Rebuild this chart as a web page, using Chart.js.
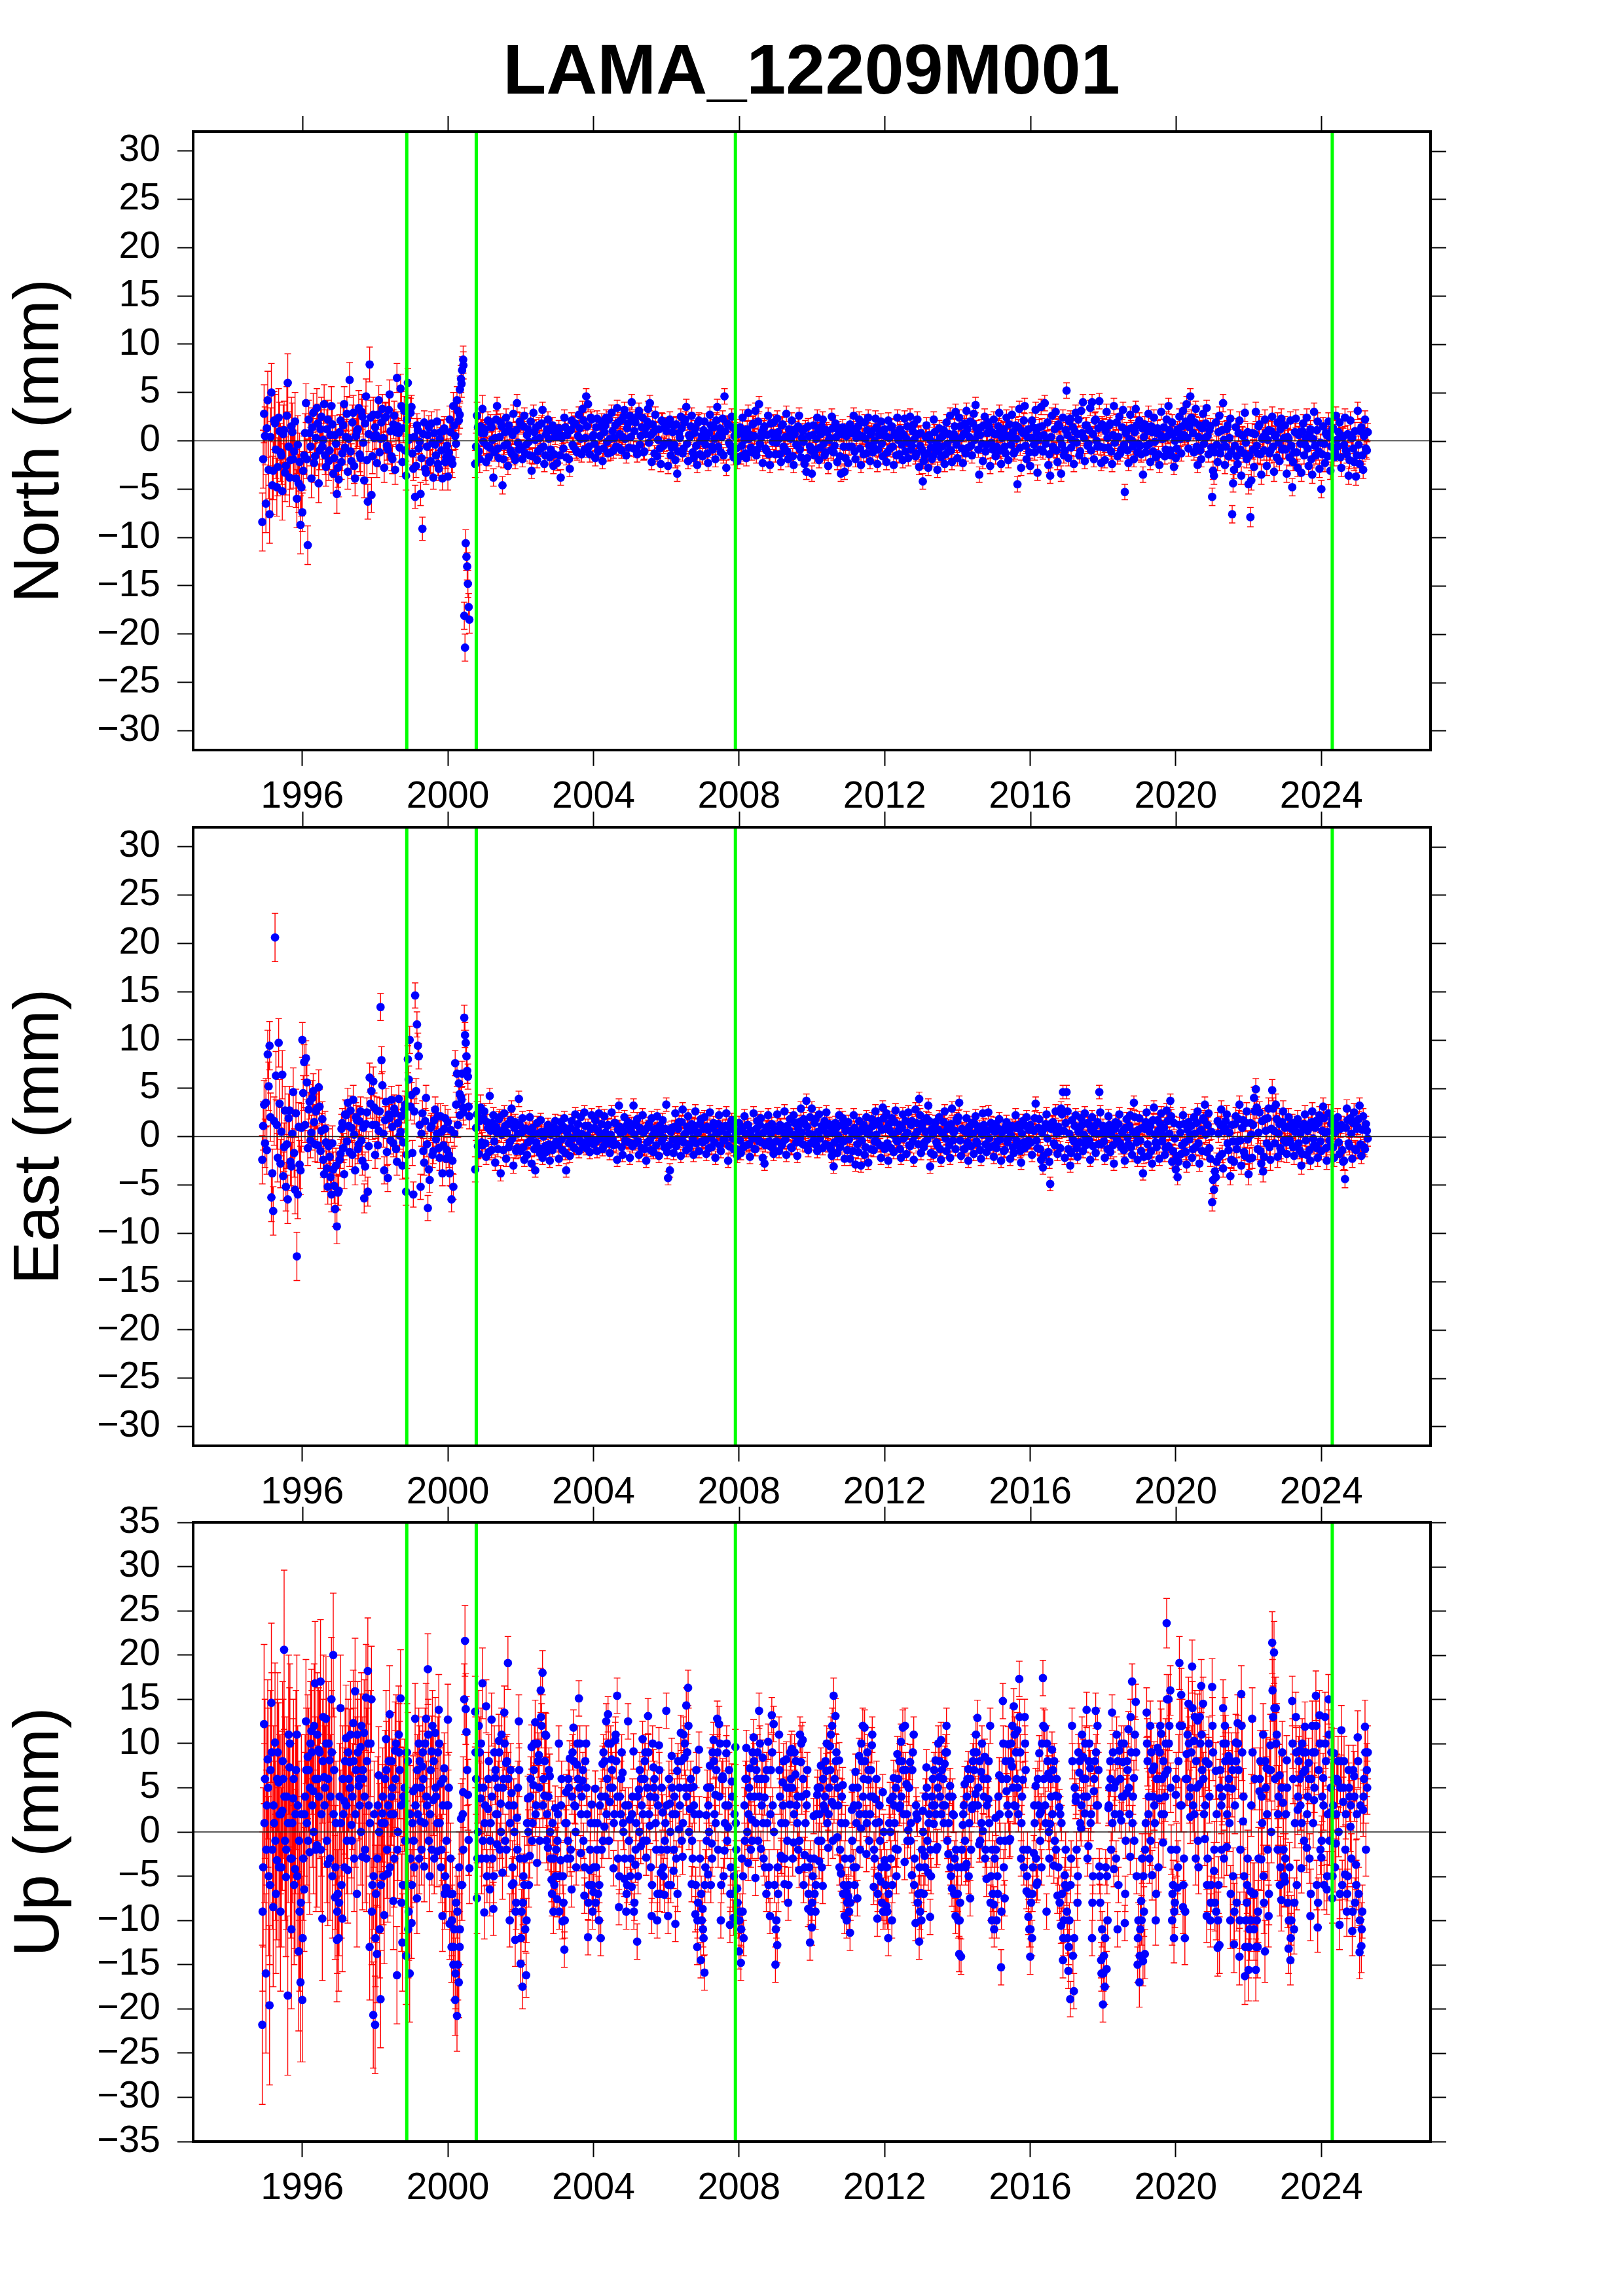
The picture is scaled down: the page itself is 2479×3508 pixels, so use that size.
<!DOCTYPE html>
<html><head><meta charset="utf-8">
<script src="https://cdn.jsdelivr.net/npm/chart.js@4.4.1/dist/chart.umd.min.js"></script>
<style>
html,body{margin:0;padding:0;background:#fff;}
body{width:2479px;height:3508px;position:relative;overflow:hidden;font-family:"Liberation Sans",Arial,sans-serif;}
#title{position:absolute;left:0;top:52px;width:2479px;text-align:center;font-weight:bold;font-size:108px;line-height:108px;color:#000;}
canvas{position:absolute;left:0;}
</style></head>
<body>
<div id="title">LAMA_12209M001</div>
<canvas id="cN"></canvas>
<canvas id="cE"></canvas>
<canvas id="cU"></canvas>
<script>
// ---------- DATA (decimal years; mm) ----------
// sample set A
const epochs = [
1994.90,1994.95,
1995.00,1995.05,1995.10,1995.15,1995.20,1995.25,1995.30,1995.35,1995.40,1995.45,1995.50,1995.55,1995.60,1995.65,1995.70,1995.75,1995.80,1995.85,1995.90,1995.95,
1996.00,1996.05,1996.10,1996.15,1996.20,1996.25,1996.30,1996.35,1996.40,1996.45,1996.50,1996.55,1996.60,1996.65,1996.70,1996.75,1996.80,1996.85,1996.90,1996.95,
1997.00,1997.05,1997.10,1997.15,1997.20,1997.25,1997.30,1997.35,1997.40,1997.45,1997.50,1997.55,1997.60,1997.65,1997.70,1997.75,1997.80,1997.85,1997.90,1997.95,
1998.00,1998.05,1998.10,1998.15,1998.20,1998.25,1998.30,1998.35,1998.40,1998.45,1998.50,1998.55,1998.60,1998.65,1998.70,1998.75,1998.80,1998.85,1998.90,1998.95,
1999.00,1999.05,1999.10,1999.15,1999.20,1999.25,1999.30,1999.35,1999.40,1999.45,1999.50,1999.55,1999.60,1999.65,1999.70,1999.75,1999.80,1999.85,1999.90,1999.95,
2000.00,2000.05,2000.10,2000.15,2000.20,2000.25,2000.30,2000.33,2000.36,2000.39,2000.42,2000.45,2000.47,2000.49,2000.51,2000.53,2000.55,2000.57,2000.59,2000.75,2000.80,2000.85,2000.90,2000.95,
2001.00,2001.05,2001.10,2001.15,2001.20,2001.25,2001.30,2001.35,2001.40,2001.45,2001.50,2001.55,2001.60,2001.65,2001.70,2001.75,2001.80,2001.85,2001.90,2001.95,
2002.00,2002.05,2002.10,2002.15,2002.20,2002.25,2002.30,2002.35,2002.40,2002.45,2002.50,2002.55,2002.60,2002.65,2002.70,2002.75,2002.80,2002.85,2002.90,2002.95,
2003.00,2003.05,2003.10,2003.15,2003.20,2003.25,2003.30,2003.35,2003.40,2003.45,2003.50,2003.55,2003.60,2003.65,2003.70,2003.75,2003.80,2003.85,2003.90,2003.95,
2004.00,2004.05,2004.10,2004.15,2004.20,2004.25,2004.30,2004.35,2004.40,2004.45,2004.50,2004.55,2004.60,2004.65,2004.70,2004.75,2004.80,2004.85,2004.90,2004.95,
2005.00,2005.05,2005.10,2005.15,2005.20,2005.25,2005.30,2005.35,2005.40,2005.45,2005.50,2005.55,2005.60,2005.65,2005.70,2005.75,2005.80,2005.85,2005.90,2005.95,
2006.00,2006.05,2006.10,2006.15,2006.20,2006.25,2006.30,2006.35,2006.40,2006.45,2006.50,2006.55,2006.60,2006.65,2006.70,2006.75,2006.80,2006.85,2006.90,2006.95,
2007.00,2007.05,2007.10,2007.15,2007.20,2007.25,2007.30,2007.35,2007.40,2007.45,2007.50,2007.55,2007.60,2007.65,2007.70,2007.75,2007.80,2007.85,2007.90,2007.95,
2008.00,2008.05,2008.10,2008.15,2008.20,2008.25,2008.30,2008.35,2008.40,2008.45,2008.50,2008.55,2008.60,2008.65,2008.70,2008.75,2008.80,2008.85,2008.90,2008.95,
2009.00,2009.05,2009.10,2009.15,2009.20,2009.25,2009.30,2009.35,2009.40,2009.45,2009.50,2009.55,2009.60,2009.65,2009.70,2009.75,2009.80,2009.85,2009.90,2009.95,
2010.00,2010.05,2010.10,2010.15,2010.20,2010.25,2010.30,2010.35,2010.40,2010.45,2010.50,2010.55,2010.60,2010.65,2010.70,2010.75,2010.80,2010.85,2010.90,2010.95,
2011.00,2011.05,2011.10,2011.15,2011.20,2011.25,2011.30,2011.35,2011.40,2011.45,2011.50,2011.55,2011.60,2011.65,2011.70,2011.75,2011.80,2011.85,2011.90,2011.95,
2012.00,2012.05,2012.10,2012.15,2012.20,2012.25,2012.30,2012.35,2012.40,2012.45,2012.50,2012.55,2012.60,2012.65,2012.70,2012.75,2012.80,2012.85,2012.90,2012.95,
2013.00,2013.05,2013.10,2013.15,2013.20,2013.25,2013.30,2013.35,2013.40,2013.45,2013.50,2013.55,2013.60,2013.65,2013.70,2013.75,2013.80,2013.85,2013.90,2013.95,
2014.00,2014.05,2014.10,2014.15,2014.20,2014.25,2014.30,2014.35,2014.40,2014.45,2014.50,2014.55,2014.60,2014.65,2014.70,2014.75,2014.80,2014.85,2014.90,2014.95,
2015.00,2015.05,2015.10,2015.15,2015.20,2015.25,2015.30,2015.35,2015.40,2015.45,2015.50,2015.55,2015.60,2015.65,2015.70,2015.75,2015.80,2015.85,2015.90,2015.95,
2016.00,2016.05,2016.10,2016.15,2016.20,2016.25,2016.30,2016.35,2016.40,2016.45,2016.50,2016.55,2016.60,2016.65,2016.70,2016.75,2016.80,2016.85,2016.90,2016.95,
2017.00,2017.05,2017.10,2017.15,2017.20,2017.25,2017.30,2017.35,2017.40,2017.45,2017.50,2017.55,2017.60,2017.65,2017.70,2017.75,2017.80,2017.85,2017.90,2017.95,
2018.00,2018.05,2018.10,2018.15,2018.20,2018.25,2018.30,2018.35,2018.40,2018.45,2018.50,2018.55,2018.60,2018.65,2018.70,2018.75,2018.80,2018.85,2018.90,2018.95,
2019.00,2019.05,2019.10,2019.15,2019.20,2019.25,2019.30,2019.35,2019.40,2019.45,2019.50,2019.55,2019.60,2019.65,2019.70,2019.75,2019.80,2019.85,2019.90,2019.95,
2020.00,2020.05,2020.10,2020.15,2020.20,2020.25,2020.30,2020.35,2020.40,2020.45,2020.50,2020.55,2020.60,2020.65,2020.70,2020.75,2020.80,2020.85,2020.90,2020.95,
2021.00,2021.05,2021.10,2021.15,2021.20,2021.25,2021.30,2021.35,2021.40,2021.45,2021.50,2021.55,2021.60,2021.65,2021.70,2021.75,2021.80,2021.85,2021.90,2021.95,
2022.00,2022.05,2022.10,2022.15,2022.20,2022.25,2022.30,2022.35,2022.40,2022.45,2022.50,2022.55,2022.60,2022.65,2022.70,2022.75,2022.80,2022.85,2022.90,2022.95,
2023.00,2023.05,2023.10,2023.15,2023.20,2023.25,2023.30,2023.35,2023.40,2023.45,2023.50,2023.55,2023.60,2023.65,2023.70,2023.75,2023.80,2023.85,2023.90,2023.95,
2024.00,2024.05,2024.10,2024.15,2024.20,2024.25,2024.30,2024.35,2024.40,2024.45,2024.50,2024.55,2024.60,2024.65,2024.70,2024.75,2024.80,2024.85,2024.90,2024.95,
2025.00,2025.05,2025.10,2025.15,2025.20,2025.25
];

const north = [
-8.4,2.8,
-6.5,4.2,-7.6,5.0,-3.1,1.8,-4.8,2.4,-1.2,-5.2,1.1,-2.6,6.0,-3.8,1.5,-1.9,2.0,-6.0,-4.4,-8.7,
-7.4,-1.5,3.9,-10.8,0.8,-3.9,2.9,-1.6,3.4,-4.4,1.2,-0.6,3.8,-2.7,2.2,-1.0,3.6,-3.4,0.6,-5.5,
-4.0,2.1,-1.3,3.8,0.4,-3.2,6.3,-2.1,2.9,-3.9,1.0,3.4,-1.8,2.5,-4.1,4.6,-6.3,7.9,-5.6,2.7,
1.4,-2.3,4.2,0.2,3.3,-2.8,2.5,-0.9,4.8,-1.6,1.7,-3.0,6.5,0.8,5.4,-2.2,3.1,-3.6,6.0,0.3,
3.5,-2.9,-5.8,1.6,-0.8,-5.5,-9.1,1.9,-3.3,0.6,-2.2,1.8,-3.8,-0.4,2.0,-2.9,0.9,-3.9,1.3,-1.7,
-3.7,2.2,-1.9,3.6,0.5,4.2,2.1,5.3,6.4,7.3,8.4,-18.1,-21.4,-10.6,-12.0,-13.0,-14.8,-17.2,-18.5,-2.4,2.6,-1.1,1.5,3.3,
0.8,-2.2,2.1,-0.7,1.4,-3.8,0.3,3.6,-1.8,1.9,-4.6,-0.5,2.4,-2.6,1.0,-1.3,2.8,-2.0,3.9,-0.9,
1.7,-1.9,2.6,-0.4,1.2,-1.5,-3.1,2.9,0.1,-2.0,1.6,-0.8,3.2,-2.4,0.7,2.2,-1.7,1.1,-2.6,0.4,
-2.3,1.3,-3.8,0.5,2.4,-1.7,1.0,-2.9,2.1,-0.6,1.8,-1.2,2.7,0.2,3.3,-0.9,4.6,3.8,-1.4,2.2,
0.6,-1.8,2.3,-0.9,1.5,-2.1,0.9,2.4,-1.3,0.2,2.9,-1.0,1.6,3.4,-0.7,2.1,0.4,3.2,-1.5,1.8,
2.6,4.0,-0.8,1.9,-1.4,3.1,0.5,2.4,-1.1,1.4,3.3,3.9,-2.2,0.9,2.7,-1.6,1.2,-2.4,2.0,-0.3,
1.0,-2.6,2.2,-0.7,1.6,-2.0,-3.4,0.8,2.5,-1.3,1.9,3.5,-2.1,0.4,2.6,-1.8,1.3,-2.5,2.1,0.0,
-1.6,2.0,0.3,-2.3,2.7,-0.6,1.4,-1.9,3.5,0.6,-1.2,2.3,4.6,-2.8,1.7,-0.4,2.5,-1.7,1.1,-2.1,
0.9,-1.6,2.4,0.1,-1.8,2.9,0.6,-1.2,1.8,3.1,-0.9,3.8,0.3,-2.3,1.5,-1.0,2.6,-2.5,0.8,1.9,
-1.4,2.3,0.2,-2.2,1.7,-0.8,2.8,-1.9,0.7,2.1,-2.5,1.2,-0.5,2.6,-1.7,1.0,-2.4,-3.2,1.5,-0.6,
-3.4,1.6,-0.9,2.4,-2.0,0.7,2.2,-1.5,1.1,-2.6,0.3,2.5,-1.2,1.8,-2.2,0.9,-3.4,1.4,-3.2,0.5,
-2.3,1.7,-0.6,2.6,-1.9,0.8,2.2,-2.5,0.4,1.9,-1.3,2.4,-2.1,1.0,-0.7,2.3,-2.4,0.6,2.0,-1.6,
1.2,-2.2,2.1,-0.8,1.5,-2.5,0.6,2.4,-1.4,0.9,-2.0,2.3,0.2,-1.8,2.5,-0.5,1.7,-1.6,2.2,-2.7,
0.8,-4.2,-1.5,1.6,-2.8,0.1,-1.9,2.2,-0.9,-3.0,1.3,-1.7,0.5,-2.4,1.9,-1.1,2.6,-2.2,0.7,3.0,
-1.8,2.4,0.3,-2.3,1.8,3.1,-0.7,2.0,-1.5,2.8,3.7,0.6,-3.5,1.4,-2.1,2.5,-0.4,1.9,-2.6,0.9,
2.2,-1.6,0.7,2.9,-2.4,1.1,-0.6,2.4,-2.0,0.4,2.7,-1.3,1.6,-4.5,3.3,-2.8,0.8,3.6,-1.9,1.2,
-2.6,2.1,-0.4,3.2,-3.3,1.4,3.5,-1.1,3.9,0.2,-2.5,-3.6,2.6,-0.9,3.0,-2.2,1.5,-3.4,2.4,-1.0,
5.2,-1.8,2.3,0.1,-2.4,2.9,0.7,-1.5,3.1,4.0,-2.1,1.6,-0.3,3.4,4.0,-1.9,2.2,-0.6,4.1,-2.3,
1.5,-2.0,3.0,-0.7,1.8,-2.4,3.6,0.4,-1.6,2.5,-0.9,3.2,-5.3,1.1,-2.3,2.7,0.0,-1.9,3.3,-1.2,
2.1,-1.4,-3.5,1.7,-0.5,2.8,-2.2,0.9,2.4,-1.7,1.3,-2.5,3.0,0.2,-1.6,2.2,3.6,-1.0,1.9,-2.7,
-1.8,1.2,2.5,-1.3,3.1,0.4,3.8,-0.8,4.6,2.0,-1.2,3.3,-2.5,1.6,-1.9,2.8,0.3,3.4,-1.4,1.5,
-5.8,-3.6,1.9,-2.2,2.6,-0.7,3.9,-2.5,1.2,-1.6,2.3,-7.6,-3.0,1.4,-2.4,2.1,-3.6,0.5,2.9,-1.9,
-4.5,-7.9,0.8,-2.7,3.0,-1.3,1.7,-3.5,0.4,2.2,-2.6,1.1,-1.0,2.5,-3.2,0.6,1.9,-2.1,2.3,-0.8,
1.6,-3.4,0.2,2.1,-4.8,-1.2,2.3,-2.8,0.9,-3.3,1.8,-0.4,2.4,-2.6,1.2,-3.5,3.0,-1.5,2.0,-2.9,
-5.0,1.5,-2.3,0.6,2.0,-3.1,1.2,-1.7,2.6,-0.6,1.9,-2.8,0.4,2.4,-1.4,-3.6,2.1,0.3,-2.2,-3.7,
3.1,-2.4,1.4,-3.0,2.2,-1.0
];

const east = [
-2.4,3.3,
3.5,8.5,9.4,-6.3,-7.7,20.6,1.2,9.7,-2.8,6.4,-1.1,-5.2,-6.5,2.7,-3.1,4.6,-5.5,-12.4,1.0,-3.5,
10.0,7.7,8.1,-1.2,3.6,0.4,4.7,-0.8,2.9,5.1,-1.5,1.8,-3.9,-0.6,-5.2,-2.1,-6.0,-3.4,-7.5,-9.3,
-5.6,-1.8,1.4,-3.9,2.2,3.5,-1.6,0.9,3.8,-3.5,1.7,-0.8,2.6,-2.5,-6.4,1.3,-5.7,6.1,4.7,5.7,
-1.9,2.7,0.6,13.4,5.3,-3.5,3.6,-4.3,1.9,3.8,-0.7,2.4,-2.6,3.9,0.5,-3.0,2.8,-5.7,8.0,10.0,
4.3,-6.0,14.6,11.6,8.3,-5.2,2.4,-2.7,4.0,-7.4,-4.5,1.1,-1.5,2.8,0.3,-1.2,2.1,-3.8,0.8,-2.3,
1.5,-3.8,-6.5,-5.2,7.6,6.5,5.5,2.2,4.1,6.5,3.0,12.3,10.5,9.7,8.3,6.8,6.2,3.1,2.1,-3.4,2.3,-1.8,3.0,-0.9,
2.6,-2.1,0.9,4.2,-1.4,2.2,-2.7,0.4,1.8,-3.8,0.6,2.4,-2.3,1.3,-0.6,2.9,-3.0,1.5,-1.2,3.9,
-1.5,1.9,-2.4,0.8,-0.6,2.0,-2.8,0.2,-3.5,1.4,-1.2,1.7,-2.2,0.5,-1.6,1.2,-2.5,0.9,-0.9,1.6,
0.4,-2.3,1.5,-1.4,1.9,-3.5,0.1,-2.0,1.6,-1.1,2.3,0.3,-1.5,2.0,-0.6,2.5,-1.2,1.1,-1.6,2.2,
-0.8,1.7,-1.5,2.4,0.2,-1.3,2.1,-0.4,1.2,-1.7,2.5,-0.9,1.4,-2.4,3.2,0.3,-1.9,2.0,-0.5,1.5,
-2.2,1.3,3.2,-0.7,1.8,-1.9,0.6,2.2,-1.3,-2.5,1.0,-0.4,1.9,-1.6,0.8,2.1,-2.0,0.5,1.7,-1.1,
3.3,-4.3,-3.5,0.9,-1.7,2.4,-0.3,1.5,-2.0,2.8,0.2,-1.4,2.1,-0.8,1.3,-1.9,2.6,0.4,-1.5,1.8,
-0.6,2.0,-1.8,0.7,2.5,-1.1,1.4,-2.2,0.3,2.2,-1.5,1.0,-0.4,2.4,-2.5,0.8,1.7,-1.3,0.5,-2.0,
1.4,-1.7,0.6,2.1,-0.9,1.2,-2.1,0.0,2.4,-1.3,1.6,-0.5,1.9,-2.2,-2.8,0.9,2.2,-1.0,1.3,-1.8,
0.7,2.3,-1.5,1.1,-0.6,2.6,-1.9,0.4,1.8,-1.2,2.2,0.1,-2.0,1.5,2.9,-0.8,1.3,3.7,-1.4,2.0,
2.9,-0.4,1.8,-1.5,2.3,0.6,-1.2,1.6,2.5,-0.9,1.1,-2.0,-3.1,1.4,-1.7,2.2,-0.3,1.9,-2.3,0.7,
1.5,-2.3,0.4,2.2,-2.9,-0.8,1.6,-3.0,0.9,-1.9,2.0,-2.7,0.2,1.8,-1.4,2.6,-0.6,1.2,-2.2,3.0,
-1.3,2.4,-2.5,0.6,1.9,-1.6,2.7,-0.5,1.2,-2.2,2.3,0.0,-1.8,2.5,-1.0,1.6,-2.4,2.8,0.5,3.9,
-1.7,1.4,-0.6,1.9,3.2,-3.1,0.8,-1.9,1.5,-0.9,2.0,-2.4,0.3,2.6,-1.5,1.1,-2.2,2.9,0.4,-1.3,
1.6,3.5,-2.0,0.7,-1.3,1.9,-2.5,0.2,1.4,-1.8,2.1,-0.7,1.0,-2.3,2.4,0.5,-1.6,2.5,-1.1,0.9,
-2.1,1.3,-0.5,1.8,-2.5,0.6,-1.4,1.5,-0.2,-2.3,1.1,-1.7,2.2,-0.9,0.8,-2.7,1.6,-1.2,2.0,-0.4,
1.2,-1.9,0.6,3.4,-1.2,1.8,-2.4,-3.2,0.9,2.3,-1.6,-4.9,1.4,-0.7,2.6,-1.8,0.5,2.9,4.6,-2.2,
4.6,-1.3,-3.0,1.7,-0.5,2.2,-2.1,0.8,1.9,-1.5,2.4,-0.2,1.3,-2.4,2.0,0.4,-1.7,1.5,4.6,-0.8,
1.1,-2.2,0.3,2.1,-1.6,0.9,-2.8,1.5,-0.4,2.3,-1.1,0.6,-2.5,1.8,-0.8,2.2,-1.9,3.5,0.2,-2.4,
1.9,-1.5,-3.8,0.8,2.5,-2.0,1.1,-2.8,3.0,-0.6,1.7,-2.3,2.4,0.1,-1.9,2.7,-1.0,3.7,-2.6,1.4,
-3.4,-4.2,1.2,-1.8,2.2,-0.6,-2.9,1.5,0.2,-2.2,2.0,-1.1,2.6,-2.8,0.7,1.9,3.3,-1.6,2.4,-2.3,
-6.8,-5.5,-4.2,1.6,-2.1,2.8,-3.3,0.9,2.3,-1.4,-4.1,1.2,-2.6,2.1,-0.5,3.3,-3.0,1.7,-2.0,2.6,
-3.9,1.4,-2.2,4.0,4.9,-1.3,2.5,-2.8,-3.6,1.8,-0.7,2.9,-2.4,4.8,0.6,3.3,-2.1,1.3,-1.5,2.6,
0.9,-1.8,2.0,-0.6,1.4,-2.0,0.5,1.8,-1.4,-3.0,0.8,2.3,-1.9,1.1,-2.5,2.6,-0.9,1.6,-2.2,2.2,
-1.5,3.1,0.4,-2.5,2.4,-1.0,1.7,-2.2,0.6,2.0,-1.8,1.2,-2.6,-4.4,2.9,-0.7,1.9,-2.3,2.5,-1.4,
1.0,3.2,-2.0,2.1,-1.3,0.6
];

const up = [
-21.8,12.2,
-16.0,8.2,-19.6,14.6,-8.5,10.1,-3.2,5.6,-9.0,2.4,20.6,-5.1,-18.5,7.3,-11.0,3.8,-4.2,11.0,-13.5,-17.0,
-19.0,-6.5,12.5,8.5,-2.3,11.4,4.6,16.8,-1.5,9.3,17.0,-9.8,6.2,12.8,-3.6,8.1,15.0,20.0,-7.4,-12.2,
-12.0,14.0,-9.8,3.5,10.6,-4.3,7.9,0.8,12.3,15.9,-7.0,5.2,9.6,-2.8,11.2,15.2,18.2,-13.0,15.0,-20.7,
-21.8,-13.8,6.4,-18.9,2.1,-9.4,10.5,-4.7,13.3,4.0,-7.8,9.2,-16.2,11.0,15.1,-12.5,3.3,-14.0,8.0,-16.0,
-10.3,4.6,12.8,-7.5,10.0,1.2,7.4,-3.9,12.8,18.4,-5.0,9.1,3.6,11.2,-2.2,13.8,5.5,-9.5,7.2,-6.3,
12.7,-10.4,-13.0,-15.0,-19.0,-20.8,-17.0,-11.0,1.5,-6.0,4.5,15.0,21.6,13.9,11.3,7.0,4.2,-0.9,-4.1,13.6,-7.5,12.0,3.8,16.8,
-9.1,14.2,2.6,-6.5,12.7,-8.7,6.1,-1.4,10.3,3.2,-4.6,13.5,7.8,19.1,-10.0,4.4,-5.8,-12.2,1.6,12.5,
-14.9,-17.5,-6.0,-16.2,3.8,-2.7,9.6,5.3,12.4,-3.5,8.7,16.0,18.0,4.1,10.9,-1.8,6.3,-5.4,-9.0,2.7,
-7.6,10.0,-3.2,-10.1,-13.3,4.5,-1.0,8.3,-6.5,11.8,2.9,7.6,15.1,-2.4,5.8,-7.2,10.0,-11.9,-4.3,3.1,
-6.8,4.9,-2.0,-10.0,-12.0,7.7,0.6,12.5,13.3,3.4,8.2,-4.1,10.4,15.4,-8.5,2.0,6.7,-5.3,-9.0,12.5,
1.4,-6.2,9.1,-3.7,-12.4,4.8,-1.6,10.5,6.0,-2.9,13.1,0.7,-9.5,7.3,3.9,-10.0,9.8,-4.6,2.2,-7.1,
13.7,-9.5,3.2,8.6,-4.4,-10.4,6.9,0.3,11.2,-2.8,8.4,14.3,16.3,2.6,-5.9,5.1,-9.3,-13.0,9.3,-14.5,
-8.7,-15.9,1.9,-4.8,7.5,-1.3,10.4,4.2,12.8,12.2,-10.0,6.3,-2.1,8.9,0.5,-10.5,5.7,-9.7,9.6,-6.4,
-13.5,-14.8,-9.0,3.0,9.5,-3.5,7.2,1.4,10.7,-5.2,6.0,13.7,-1.9,8.4,3.9,-7.0,10.2,-9.5,13.2,12.2,
-15.0,-12.8,11.0,-2.7,5.6,-5.9,8.2,-8.0,3.1,9.4,-1.2,6.5,1.0,-4.3,7.9,10.4,-2.6,4.3,-8.7,-12.5,
-10.8,1.8,-9.0,4.2,-3.3,7.5,-6.1,2.6,6.9,-1.8,9.7,3.4,15.4,13.1,-0.6,8.1,-4.7,5.3,-9.5,-6.8,
-7.3,-11.4,2.5,-4.0,6.8,-7.5,8.6,0.4,12.0,11.8,-2.5,5.9,2.0,9.8,-6.2,3.7,-9.8,1.1,-5.6,4.5,
-3.2,-8.4,-12.0,3.6,-10.0,6.1,-1.9,8.8,2.7,10.2,11.8,-3.4,5.4,0.2,7.9,-4.9,11.0,-10.3,1.5,-12.4,
-6.9,2.4,-2.7,7.3,-4.6,-9.6,4.0,0.9,8.1,-1.7,6.2,10.4,3.0,7.7,12.0,-2.5,5.2,-6.4,1.9,-9.5,
-4.0,-13.8,-14.1,0.8,5.4,-3.6,7.1,-7.5,2.6,9.0,4.3,12.9,-1.4,6.8,0.1,8.5,-5.3,3.7,12.0,-10.0,
-8.2,1.6,-5.0,6.4,-15.3,14.8,-7.5,4.6,9.9,-0.8,7.4,14.2,2.9,11.5,17.3,-3.0,5.9,13.0,-6.7,-9.6,
-14.1,-12.0,-2.4,5.2,-5.7,8.9,2.3,17.4,11.8,-9.0,6.6,0.9,9.3,-3.8,4.1,-7.2,2.8,-10.6,-14.5,-4.9,
-6.3,-15.7,-18.9,12.0,-18.0,3.5,-8.0,6.7,0.4,8.5,2.1,13.8,-1.6,7.2,-12.0,4.6,13.7,12.0,-3.9,-14.5,
-19.5,-17.5,-15.5,2.7,8.0,13.5,-4.2,5.6,-11.0,9.2,1.3,7.9,-10.3,4.4,11.6,-2.8,17.0,6.1,14.7,-15.0,
-17.0,-7.8,-14.6,-13.8,13.5,2.0,12.0,-4.9,7.4,-10.0,9.5,3.8,11.1,-1.2,6.5,23.6,15.0,16.0,-10.0,-12.0,
4.2,-6.3,19.1,15.5,-8.5,-12.0,8.8,14.5,1.7,18.7,10.3,-3.0,12.6,5.4,16.5,14.5,-0.8,-9.5,7.7,-10.0,
16.4,-4.4,6.9,-13.1,-12.8,3.0,14.0,12.0,-1.7,8.6,-10.0,4.9,-12.7,10.1,12.3,-14.1,15.6,1.2,-16.3,-8.0,
-15.6,-6.7,12.8,-11.0,-15.6,-13.0,4.6,-3.1,11.0,-13.5,7.2,-9.5,9.8,21.4,20.3,14.0,-2.0,6.4,-7.7,3.3,
-5.6,8.1,-13.2,-14.5,14.8,-11.0,13.0,2.5,9.2,-4.1,6.7,11.9,-1.8,7.8,-9.5,12.0,3.6,15.4,-10.8,13.2,
-2.9,6.1,13.0,-6.5,15.0,2.2,-7.5,8.9,-1.3,5.7,-10.5,11.5,3.4,-4.8,-9.0,7.0,0.6,-11.2,6.3,-3.7,
10.7,-13.6,-12.9,2.5,11.9,7.0
];

// sample set B (in between set A epochs)
const epochsB = [
1994.925,1994.975,
1995.025,1995.075,1995.125,1995.175,1995.225,1995.275,1995.325,1995.375,1995.425,1995.475,1995.525,1995.575,1995.625,1995.675,1995.725,1995.775,1995.825,1995.875,1995.925,1995.975,
1996.025,1996.075,1996.125,1996.175,1996.225,1996.275,1996.325,1996.375,1996.425,1996.475,1996.525,1996.575,1996.625,1996.675,1996.725,1996.775,1996.825,1996.875,1996.925,1996.975,
1997.025,1997.075,1997.125,1997.175,1997.225,1997.275,1997.325,1997.375,1997.425,1997.475,1997.525,1997.575,1997.625,1997.675,1997.725,1997.775,1997.825,1997.875,1997.925,1997.975,
1998.025,1998.075,1998.125,1998.175,1998.225,1998.275,1998.325,1998.375,1998.425,1998.475,1998.525,1998.575,1998.625,1998.675,1998.725,1998.775,1998.825,1998.875,1998.925,1998.975,
1999.025,1999.075,1999.125,1999.175,1999.225,1999.275,1999.325,1999.375,1999.425,1999.475,1999.525,1999.575,1999.625,1999.675,1999.725,1999.775,1999.825,1999.875,1999.925,1999.975,
2000.025,2000.075,2000.125,2000.175,2000.225,2000.275,2000.325,2000.375,2000.425,2000.775,2000.825,2000.875,2000.925,2000.975,
2001.025,2001.075,2001.125,2001.175,2001.225,2001.275,2001.325,2001.375,2001.425,2001.475,2001.525,2001.575,2001.625,2001.675,2001.725,2001.775,2001.825,2001.875,2001.925,2001.975,
2002.025,2002.075,2002.125,2002.175,2002.225,2002.275,2002.325,2002.375,2002.425,2002.475,2002.525,2002.575,2002.625,2002.675,2002.725,2002.775,2002.825,2002.875,2002.925,2002.975,
2003.025,2003.075,2003.125,2003.175,2003.225,2003.275,2003.325,2003.375,2003.425,2003.475,2003.525,2003.575,2003.625,2003.675,2003.725,2003.775,2003.825,2003.875,2003.925,2003.975,
2004.025,2004.075,2004.125,2004.175,2004.225,2004.275,2004.325,2004.375,2004.425,2004.475,2004.525,2004.575,2004.625,2004.675,2004.725,2004.775,2004.825,2004.875,2004.925,2004.975,
2005.025,2005.075,2005.125,2005.175,2005.225,2005.275,2005.325,2005.375,2005.425,2005.475,2005.525,2005.575,2005.625,2005.675,2005.725,2005.775,2005.825,2005.875,2005.925,2005.975,
2006.025,2006.075,2006.125,2006.175,2006.225,2006.275,2006.325,2006.375,2006.425,2006.475,2006.525,2006.575,2006.625,2006.675,2006.725,2006.775,2006.825,2006.875,2006.925,2006.975,
2007.025,2007.075,2007.125,2007.175,2007.225,2007.275,2007.325,2007.375,2007.425,2007.475,2007.525,2007.575,2007.625,2007.675,2007.725,2007.775,2007.825,2007.875,2007.925,2007.975,
2008.025,2008.075,2008.125,2008.175,2008.225,2008.275,2008.325,2008.375,2008.425,2008.475,2008.525,2008.575,2008.625,2008.675,2008.725,2008.775,2008.825,2008.875,2008.925,2008.975,
2009.025,2009.075,2009.125,2009.175,2009.225,2009.275,2009.325,2009.375,2009.425,2009.475,2009.525,2009.575,2009.625,2009.675,2009.725,2009.775,2009.825,2009.875,2009.925,2009.975,
2010.025,2010.075,2010.125,2010.175,2010.225,2010.275,2010.325,2010.375,2010.425,2010.475,2010.525,2010.575,2010.625,2010.675,2010.725,2010.775,2010.825,2010.875,2010.925,2010.975,
2011.025,2011.075,2011.125,2011.175,2011.225,2011.275,2011.325,2011.375,2011.425,2011.475,2011.525,2011.575,2011.625,2011.675,2011.725,2011.775,2011.825,2011.875,2011.925,2011.975,
2012.025,2012.075,2012.125,2012.175,2012.225,2012.275,2012.325,2012.375,2012.425,2012.475,2012.525,2012.575,2012.625,2012.675,2012.725,2012.775,2012.825,2012.875,2012.925,2012.975,
2013.025,2013.075,2013.125,2013.175,2013.225,2013.275,2013.325,2013.375,2013.425,2013.475,2013.525,2013.575,2013.625,2013.675,2013.725,2013.775,2013.825,2013.875,2013.925,2013.975,
2014.025,2014.075,2014.125,2014.175,2014.225,2014.275,2014.325,2014.375,2014.425,2014.475,2014.525,2014.575,2014.625,2014.675,2014.725,2014.775,2014.825,2014.875,2014.925,2014.975,
2015.025,2015.075,2015.125,2015.175,2015.225,2015.275,2015.325,2015.375,2015.425,2015.475,2015.525,2015.575,2015.625,2015.675,2015.725,2015.775,2015.825,2015.875,2015.925,2015.975,
2016.025,2016.075,2016.125,2016.175,2016.225,2016.275,2016.325,2016.375,2016.425,2016.475,2016.525,2016.575,2016.625,2016.675,2016.725,2016.775,2016.825,2016.875,2016.925,2016.975,
2017.025,2017.075,2017.125,2017.175,2017.225,2017.275,2017.325,2017.375,2017.425,2017.475,2017.525,2017.575,2017.625,2017.675,2017.725,2017.775,2017.825,2017.875,2017.925,2017.975,
2018.025,2018.075,2018.125,2018.175,2018.225,2018.275,2018.325,2018.375,2018.425,2018.475,2018.525,2018.575,2018.625,2018.675,2018.725,2018.775,2018.825,2018.875,2018.925,2018.975,
2019.025,2019.075,2019.125,2019.175,2019.225,2019.275,2019.325,2019.375,2019.425,2019.475,2019.525,2019.575,2019.625,2019.675,2019.725,2019.775,2019.825,2019.875,2019.925,2019.975,
2020.025,2020.075,2020.125,2020.175,2020.225,2020.275,2020.325,2020.375,2020.425,2020.475,2020.525,2020.575,2020.625,2020.675,2020.725,2020.775,2020.825,2020.875,2020.925,2020.975,
2021.025,2021.075,2021.125,2021.175,2021.225,2021.275,2021.325,2021.375,2021.425,2021.475,2021.525,2021.575,2021.625,2021.675,2021.725,2021.775,2021.825,2021.875,2021.925,2021.975,
2022.025,2022.075,2022.125,2022.175,2022.225,2022.275,2022.325,2022.375,2022.425,2022.475,2022.525,2022.575,2022.625,2022.675,2022.725,2022.775,2022.825,2022.875,2022.925,2022.975,
2023.025,2023.075,2023.125,2023.175,2023.225,2023.275,2023.325,2023.375,2023.425,2023.475,2023.525,2023.575,2023.625,2023.675,2023.725,2023.775,2023.825,2023.875,2023.925,2023.975,
2024.025,2024.075,2024.125,2024.175,2024.225,2024.275,2024.325,2024.375,2024.425,2024.475,2024.525,2024.575,2024.625,2024.675,2024.725,2024.775,2024.825,2024.875,2024.925,2024.975,
2025.025,2025.075,2025.125,2025.175,2025.225,2025.275
];

const northB = [
-1.9,0.5,
1.3,-3.0,0.4,-4.6,2.1,-0.9,-2.7,1.0,-1.5,0.7,-3.3,2.6,-0.6,-2.0,0.9,-1.1,-3.9,-0.4,-2.2,-4.8,
-3.1,0.8,-1.9,2.2,-0.6,1.4,-2.3,0.3,1.8,-1.0,2.5,0.1,-1.5,1.2,-2.1,0.6,1.7,-1.8,-0.3,-2.8,
0.9,-2.2,1.6,-0.7,2.8,0.2,-1.1,1.9,-2.6,0.5,1.2,-1.4,3.0,-0.2,1.8,-2.0,0.7,2.4,-1.6,0.3,
0.6,2.7,-1.2,1.9,0.3,2.4,-0.5,3.2,1.0,-1.9,2.6,0.9,1.5,-0.7,3.6,1.3,-1.0,2.2,0.1,2.9,
-1.3,0.4,-2.6,1.1,-0.1,-1.8,0.7,-2.9,-0.6,1.4,-2.1,-0.2,0.8,-1.5,-2.4,0.2,-1.0,1.0,-2.2,-0.5,
-1.2,0.9,-2.4,1.6,-0.3,3.1,2.7,5.9,7.8,-0.6,1.4,-1.9,0.8,-0.1,
1.2,-0.5,-1.7,1.8,0.1,-1.2,2.2,-0.8,0.4,1.5,-1.9,0.9,-0.3,1.6,-1.0,0.6,-1.6,1.1,-0.2,2.0,
-0.7,1.5,-1.3,0.6,-0.1,2.0,-1.6,0.9,1.4,-1.1,0.3,1.8,-0.6,-1.5,1.2,0.2,-0.9,1.6,-1.4,0.8,
0.9,-1.5,0.3,-0.8,1.4,0.6,-1.9,1.1,-0.4,1.7,-1.0,0.5,1.3,-1.4,2.1,0.3,1.5,-0.6,2.4,0.4,
-0.3,1.4,-1.1,0.5,2.0,-0.8,1.6,-0.1,2.2,-1.2,1.0,0.3,-0.6,1.9,0.7,-1.0,2.5,0.2,1.3,-0.7,
0.4,2.2,1.0,-0.9,2.6,-0.4,1.4,-1.2,0.7,2.0,-0.2,0.6,1.7,-1.3,1.2,0.1,-0.8,2.1,-0.5,1.5,
1.6,-0.2,-1.5,0.9,-0.4,1.7,-1.1,0.3,1.3,-0.8,2.2,-0.3,0.6,1.5,-1.2,0.8,-0.5,1.9,-1.4,0.5,
1.1,-0.4,-1.3,0.8,1.6,-0.9,0.2,2.1,-0.6,1.3,0.4,-1.5,1.0,1.8,-0.2,-1.1,1.4,0.5,-0.8,0.7,
1.4,-0.5,0.7,-1.3,1.2,0.2,-0.7,1.7,0.5,-1.5,2.0,-0.3,0.9,1.3,-0.8,0.6,-1.4,1.8,-0.1,0.4,
-0.2,0.9,-1.4,1.6,-0.6,0.4,-1.1,1.2,0.2,-1.6,0.7,-0.4,1.5,-0.9,0.3,-0.1,1.3,-1.8,0.5,-1.0,
0.6,-1.5,0.2,1.1,-0.7,1.5,-0.3,-1.2,0.9,0.1,-1.0,1.3,-0.5,0.4,1.2,-1.6,0.7,-0.6,-1.8,1.0,
-0.6,0.8,1.2,-1.1,0.3,1.5,-0.8,0.5,-1.4,0.2,1.1,-0.5,0.7,-1.2,0.0,1.4,-0.9,1.0,-0.3,0.6,
0.5,-1.2,0.3,1.4,-0.6,0.8,-1.5,0.1,1.2,-0.4,0.6,-1.1,1.5,-0.2,-0.9,1.0,0.2,-1.3,0.7,-0.5,
-0.9,-2.1,0.4,-1.3,0.6,-0.7,-1.6,0.9,-0.2,-1.1,0.3,-0.6,1.1,-1.4,-0.3,0.7,-1.0,0.2,1.5,-0.4,
0.2,1.5,-0.8,0.7,-1.3,1.2,0.4,-0.5,1.8,0.1,1.3,-0.9,0.6,-0.3,1.6,-1.1,0.8,1.4,-0.2,-0.9,
0.7,-0.6,1.5,-1.0,0.3,1.2,-1.3,0.5,1.7,-0.4,0.9,-1.1,0.2,1.4,-0.7,1.0,2.1,-0.5,0.4,-1.2,
0.3,1.4,-1.2,0.8,0.1,-0.9,1.5,0.6,-0.3,1.9,-1.4,0.4,-0.6,1.2,-1.0,1.7,0.2,-0.4,-1.5,1.1,
0.6,2.0,-0.7,1.4,1.0,-0.2,2.2,-1.1,0.8,0.3,1.6,-0.5,1.1,-1.0,0.7,2.1,0.0,1.3,-0.6,1.7,
-0.7,1.0,0.3,1.6,-1.1,0.6,-0.2,1.9,0.4,-1.3,1.4,-0.4,0.8,-1.0,0.2,1.3,-0.6,0.9,1.6,-0.3,
-0.5,1.3,0.4,-1.2,1.0,-0.3,1.5,-1.1,-0.1,0.8,-1.4,0.6,0.2,1.4,-0.9,0.5,1.1,-1.5,0.7,0.0,
-0.8,0.9,0.2,1.5,0.6,2.0,0.3,1.4,2.4,0.8,1.9,-0.6,0.4,-1.0,1.3,-0.3,1.8,0.5,1.1,-0.7,
-3.1,-1.2,-0.4,0.9,-1.3,1.1,0.1,-0.6,1.6,0.3,-1.1,-4.4,-0.5,-1.6,0.8,-0.9,0.6,-1.3,-0.2,0.9,
-1.5,-4.1,-0.9,0.7,-0.5,1.5,-1.4,0.2,-1.0,0.8,0.1,-1.3,1.0,-0.6,0.5,-1.7,-0.2,1.2,-0.9,0.3,
-0.9,0.4,-1.7,-0.5,-2.2,0.9,-1.2,0.6,-0.3,1.0,-1.5,0.3,-0.8,0.8,-1.9,0.2,-0.5,1.1,-1.1,-0.2,
-1.4,-0.3,0.8,-1.6,0.4,-0.6,1.3,-1.2,0.1,0.9,-1.7,0.5,-0.4,-1.0,0.7,-2.0,0.3,-0.8,1.0,-1.5,
-0.4,1.0,-1.5,0.5,-0.8,0.9
];

const eastB = [
1.1,-0.7,
-1.4,5.2,2.0,-3.8,1.6,6.3,-2.2,3.4,0.5,-4.1,2.7,-0.8,1.9,-2.6,0.3,-1.7,2.4,-6.0,-2.9,0.9,
4.5,1.2,5.6,2.8,-0.4,4.0,1.5,2.6,-0.9,3.1,0.6,-2.4,0.8,-3.3,-1.0,-4.2,-0.7,-5.1,-3.0,-5.8,
-2.4,0.8,-1.2,2.3,-0.5,1.1,2.7,-1.9,0.2,2.0,-1.3,1.6,-0.4,0.9,-3.1,2.5,-1.0,3.4,1.2,3.0,
1.2,-0.9,2.6,7.9,0.3,1.7,-1.6,2.3,-0.4,1.0,2.9,-1.3,1.4,0.1,2.1,-0.6,3.3,-1.9,5.9,3.1,
-1.7,2.6,4.7,9.4,1.2,0.3,-1.5,1.6,-0.8,-3.4,0.9,-1.9,1.7,-0.3,2.1,-2.2,0.5,-0.9,1.9,-1.4,
-1.9,0.7,-2.5,0.3,3.3,1.2,4.4,3.8,2.5,0.9,-1.0,1.6,-0.6,1.9,
-0.7,1.5,-1.6,0.6,1.4,-0.5,1.0,-1.3,2.0,0.2,-1.4,1.1,0.4,-1.1,1.7,-0.2,0.9,-1.5,0.3,1.2,
0.4,-1.1,0.8,-1.9,0.6,-0.4,0.9,-1.3,-0.6,0.3,-1.7,0.5,0.0,-1.0,0.7,-0.8,0.2,-1.4,0.9,-0.5,
-0.9,0.7,-0.3,1.0,-1.7,0.4,-0.7,0.9,-0.2,-1.2,0.6,1.3,-0.5,0.3,-1.0,1.1,0.1,-0.6,0.8,-0.3,
0.9,-0.5,0.6,-0.2,1.3,-1.0,0.4,1.1,-0.7,0.2,-0.3,1.4,-0.8,0.7,1.0,-1.1,0.5,-0.4,1.2,-0.6,
0.6,-1.0,0.2,1.2,-0.5,0.9,-1.2,0.4,0.7,-0.6,1.3,-1.4,0.1,0.6,-0.9,0.3,1.1,-0.5,-0.1,0.8,
-1.6,-0.9,0.5,-0.3,1.0,-1.0,0.8,-0.4,1.5,-0.6,0.3,1.0,-1.2,0.6,-0.2,1.1,-0.7,0.4,1.3,-0.5,
0.8,-0.4,1.0,-1.2,-0.1,0.9,-0.6,0.4,1.3,-0.9,0.6,-0.3,1.1,0.2,-1.0,1.4,-0.2,0.7,-1.3,0.5,
-0.4,0.9,-1.1,0.3,1.2,-0.8,0.6,-0.2,-1.3,0.8,0.1,1.2,-0.6,0.4,-0.9,1.0,-0.5,0.3,-1.2,0.7,
-0.5,0.6,1.2,-0.9,0.4,-0.3,1.1,0.6,-1.1,0.2,1.4,-0.6,0.8,-0.2,0.4,1.8,-0.9,1.0,0.3,-0.7,
0.2,1.4,-0.9,0.5,-0.2,1.1,0.7,-0.8,0.3,1.3,-1.3,0.4,-0.6,0.9,0.1,-1.1,1.2,-0.5,0.6,-1.4,
-0.3,0.6,-1.5,0.9,0.1,-1.6,0.5,-0.4,1.2,-1.1,0.3,0.8,-1.3,1.1,-0.5,0.2,1.6,-0.9,0.7,1.9,
0.8,-0.7,1.3,-1.2,0.2,1.5,-0.4,0.6,-1.3,0.9,-0.2,1.6,0.4,-0.9,1.2,-0.5,0.1,1.4,-0.8,2.2,
0.9,-1.1,0.5,-0.3,1.6,-1.7,0.2,1.0,-0.6,0.7,-1.3,0.4,1.5,-0.2,0.8,-0.9,1.3,-0.4,0.6,1.8,
2.0,-0.4,0.8,-1.3,0.5,-0.6,1.0,-1.0,0.3,1.3,-0.5,0.7,-1.4,0.2,1.2,-0.8,0.6,-0.2,1.4,-1.0,
0.5,-1.2,0.8,-0.3,0.4,-1.5,1.0,-0.6,0.6,0.1,-1.1,0.9,-0.4,1.2,-1.5,0.3,-0.6,1.1,-0.9,0.7,
-0.6,0.7,1.9,-0.4,0.9,-1.3,0.4,-2.0,1.3,-0.2,-2.6,0.8,1.5,-0.9,0.3,1.0,-1.2,2.3,0.6,1.4,
2.6,0.3,-1.7,-0.3,1.1,-1.2,0.5,-0.6,1.2,0.2,-0.9,1.4,-0.4,0.7,-1.0,1.1,0.3,-0.8,2.5,0.4,
-0.5,0.6,-1.3,1.2,0.2,-0.9,0.8,-0.2,1.3,-0.7,0.4,-1.4,0.9,-0.1,1.1,-1.1,0.5,2.0,-0.6,0.7,
-0.4,0.9,-2.1,1.5,-0.8,0.5,-1.5,1.7,0.2,-1.1,0.6,1.3,-0.5,0.9,-1.2,1.6,0.3,2.1,-1.5,-0.2,
-2.0,-2.6,0.4,-0.9,1.3,-1.6,0.7,-0.3,1.1,-1.3,0.3,1.4,-0.7,0.6,-1.5,1.7,0.2,1.2,-1.2,0.5,
-4.5,-3.6,-2.6,0.3,1.2,-1.8,0.6,1.6,-0.7,0.4,-2.4,-0.5,1.3,-1.3,1.8,-0.4,0.9,-1.6,1.4,-0.3,
-2.3,0.2,1.2,2.6,3.0,0.4,-1.5,1.6,-2.1,0.6,1.9,-1.1,0.8,2.9,-0.7,1.8,0.3,-1.2,1.5,-0.4,
-0.6,1.0,-0.3,0.8,-1.1,0.5,1.2,-0.7,0.3,-1.8,1.3,-0.4,0.6,-1.4,1.5,-0.2,0.9,-1.2,1.4,-0.5,
0.6,1.9,-1.2,0.5,-0.4,1.3,-1.1,0.4,1.2,-0.6,0.8,-1.4,-2.5,0.9,1.7,-1.0,0.3,1.4,-1.3,0.8,
1.8,-0.8,0.7,-1.1,1.3,-0.2
];

const upB = [
-4,6,
3,-5,7,-2,1,-7,9,2,-4,6,-1,4,11,-3,1,-6,7,3,-9,2,
-3,4,1,7,10,3,12,-2,6,9,2,13,5,-1,10,4,-5,7,1,-7,
4,-6,2,8,-1,6,11,4,-3,7,9,3,12,6,-2,8,3,10,-6,2,
-7,3,-11,1,-5,6,-2,8,2,5,-3,10,0,7,-8,4,-1,9,-9,-3,
1,-4,5,2,8,-2,6,10,3,-1,7,12,-3,4,9,1,-2,6,-5,3,
5,-3,-7,-11,-8,-15,-13,-6,-2,6,0,9,-3,5,
3,-5,8,1,-3,9,2,5,-2,11,6,-1,8,3,7,-4,0,-8,5,-3,
-9,-5,-11,1,-6,6,1,10,3,8,-1,12,6,11,2,7,-3,1,-6,-2,
2,-5,6,-8,1,-3,5,-2,9,3,-4,6,10,4,-1,8,2,-6,1,-9,
1,-4,-7,3,-2,9,4,6,-1,10,5,2,8,-3,4,9,0,3,-6,-1,
-3,4,-8,1,-5,7,3,-1,9,5,2,-4,10,6,-2,3,-7,5,-5,1,
-2,6,-6,2,4,-3,8,3,-1,11,5,9,0,6,-3,2,7,-8,-3,-10,
-12,-4,5,0,-6,9,2,7,-2,10,6,-5,3,-1,7,-4,-7,2,-2,-10,
-9,-3,-12,6,0,5,-2,9,4,7,-1,10,3,-3,6,1,-4,7,3,-6,
-10,-7,4,-3,8,1,-1,5,6,-3,9,3,-2,11,4,-6,1,7,-4,-9,
-5,-7,2,-1,5,-4,3,8,1,5,11,-1,6,9,3,-2,4,-6,1,-8,
-9,-3,5,-6,1,3,-2,8,6,2,9,-1,7,4,-3,6,-5,-1,-8,0,
-6,-9,1,-3,4,1,-5,6,3,8,2,7,-1,5,1,9,-3,2,-7,-9,
-2,-7,4,-1,2,-5,6,3,-2,10,4,7,1,9,-1,4,-5,2,-3,-7,
-10,-8,-2,3,-4,6,1,-2,8,3,9,5,-1,10,4,-2,6,1,-5,-7,
-3,-10,4,-1,6,-4,8,3,-1,10,5,11,6,2,9,4,-4,7,-2,-11,
-8,-4,1,-6,3,-1,10,6,1,8,-3,4,7,-1,6,-4,2,-7,-10,-2,
-12,-10,-3,-14,5,-2,9,1,11,4,6,-3,10,2,-5,8,3,7,-8,-11,
-14,-4,-10,5,-2,9,2,11,-6,6,4,10,-1,7,2,9,4,11,-5,-10,
-11,-3,-9,1,8,-3,9,4,1,6,-4,12,6,2,10,7,12,-2,-6,-8,
-2,8,3,12,-3,6,11,4,9,3,13,5,-4,10,7,2,8,-3,4,-6,
9,-8,2,-6,7,4,-3,10,5,1,8,-5,3,-8,7,-2,9,-5,-10,-3,
-11,3,-7,6,-10,-3,8,1,-8,5,-2,7,0,13,6,11,4,-4,9,-5,
2,-8,-4,-10,6,1,-6,8,3,10,-1,9,4,-3,6,1,9,-6,7,-2,
4,-6,8,2,-1,9,3,-4,6,0,5,-6,8,2,-5,4,-3,7,-8,2,
-7,3,-9,6,-2,9
];

// sample set C, vertical component only (densest panel)
const epochsC = [
1994.91,1994.96,
1995.01,1995.06,1995.11,1995.16,1995.21,1995.26,1995.31,1995.36,1995.41,1995.46,1995.51,1995.56,1995.61,1995.66,1995.71,1995.76,1995.81,1995.86,1995.91,1995.96,
1996.01,1996.06,1996.11,1996.16,1996.21,1996.26,1996.31,1996.36,1996.41,1996.46,1996.51,1996.56,1996.61,1996.66,1996.71,1996.76,1996.81,1996.86,1996.91,1996.96,
1997.01,1997.06,1997.11,1997.16,1997.21,1997.26,1997.31,1997.36,1997.41,1997.46,1997.51,1997.56,1997.61,1997.66,1997.71,1997.76,1997.81,1997.86,1997.91,1997.96,
1998.01,1998.06,1998.11,1998.16,1998.21,1998.26,1998.31,1998.36,1998.41,1998.46,1998.51,1998.56,1998.61,1998.66,1998.71,1998.76,1998.81,1998.86,1998.91,1998.96,
1999.01,1999.06,1999.11,1999.16,1999.21,1999.26,1999.31,1999.36,1999.41,1999.46,1999.51,1999.56,1999.61,1999.66,1999.71,1999.76,1999.81,1999.86,1999.91,1999.96,
2000.01,2000.06,2000.11,2000.16,2000.21,2000.26,2000.31,2000.41,2000.76,2000.81,2000.86,2000.91,2000.96,
2001.01,2001.06,2001.11,2001.16,2001.21,2001.26,2001.31,2001.36,2001.41,2001.46,2001.51,2001.56,2001.61,2001.66,2001.71,2001.76,2001.81,2001.86,2001.91,2001.96,
2002.01,2002.06,2002.11,2002.16,2002.21,2002.26,2002.31,2002.36,2002.41,2002.46,2002.51,2002.56,2002.61,2002.66,2002.71,2002.76,2002.81,2002.86,2002.91,2002.96,
2003.01,2003.06,2003.11,2003.16,2003.21,2003.26,2003.31,2003.36,2003.41,2003.46,2003.51,2003.56,2003.61,2003.66,2003.71,2003.76,2003.81,2003.86,2003.91,2003.96,
2004.01,2004.06,2004.11,2004.16,2004.21,2004.26,2004.31,2004.36,2004.41,2004.46,2004.51,2004.56,2004.61,2004.66,2004.71,2004.76,2004.81,2004.86,2004.91,2004.96,
2005.01,2005.06,2005.11,2005.16,2005.21,2005.26,2005.31,2005.36,2005.41,2005.46,2005.51,2005.56,2005.61,2005.66,2005.71,2005.76,2005.81,2005.86,2005.91,2005.96,
2006.01,2006.06,2006.11,2006.16,2006.21,2006.26,2006.31,2006.36,2006.41,2006.46,2006.51,2006.56,2006.61,2006.66,2006.71,2006.76,2006.81,2006.86,2006.91,2006.96,
2007.01,2007.06,2007.11,2007.16,2007.21,2007.26,2007.31,2007.36,2007.41,2007.46,2007.51,2007.56,2007.61,2007.66,2007.71,2007.76,2007.81,2007.86,2007.91,2007.96,
2008.01,2008.06,2008.11,2008.16,2008.21,2008.26,2008.31,2008.36,2008.41,2008.46,2008.51,2008.56,2008.61,2008.66,2008.71,2008.76,2008.81,2008.86,2008.91,2008.96,
2009.01,2009.06,2009.11,2009.16,2009.21,2009.26,2009.31,2009.36,2009.41,2009.46,2009.51,2009.56,2009.61,2009.66,2009.71,2009.76,2009.81,2009.86,2009.91,2009.96,
2010.01,2010.06,2010.11,2010.16,2010.21,2010.26,2010.31,2010.36,2010.41,2010.46,2010.51,2010.56,2010.61,2010.66,2010.71,2010.76,2010.81,2010.86,2010.91,2010.96,
2011.01,2011.06,2011.11,2011.16,2011.21,2011.26,2011.31,2011.36,2011.41,2011.46,2011.51,2011.56,2011.61,2011.66,2011.71,2011.76,2011.81,2011.86,2011.91,2011.96,
2012.01,2012.06,2012.11,2012.16,2012.21,2012.26,2012.31,2012.36,2012.41,2012.46,2012.51,2012.56,2012.61,2012.66,2012.71,2012.76,2012.81,2012.86,2012.91,2012.96,
2013.01,2013.06,2013.11,2013.16,2013.21,2013.26,2013.31,2013.36,2013.41,2013.46,2013.51,2013.56,2013.61,2013.66,2013.71,2013.76,2013.81,2013.86,2013.91,2013.96,
2014.01,2014.06,2014.11,2014.16,2014.21,2014.26,2014.31,2014.36,2014.41,2014.46,2014.51,2014.56,2014.61,2014.66,2014.71,2014.76,2014.81,2014.86,2014.91,2014.96,
2015.01,2015.06,2015.11,2015.16,2015.21,2015.26,2015.31,2015.36,2015.41,2015.46,2015.51,2015.56,2015.61,2015.66,2015.71,2015.76,2015.81,2015.86,2015.91,2015.96,
2016.01,2016.06,2016.11,2016.16,2016.21,2016.26,2016.31,2016.36,2016.41,2016.46,2016.51,2016.56,2016.61,2016.66,2016.71,2016.76,2016.81,2016.86,2016.91,2016.96,
2017.01,2017.06,2017.11,2017.16,2017.21,2017.26,2017.31,2017.36,2017.41,2017.46,2017.51,2017.56,2017.61,2017.66,2017.71,2017.76,2017.81,2017.86,2017.91,2017.96,
2018.01,2018.06,2018.11,2018.16,2018.21,2018.26,2018.31,2018.36,2018.41,2018.46,2018.51,2018.56,2018.61,2018.66,2018.71,2018.76,2018.81,2018.86,2018.91,2018.96,
2019.01,2019.06,2019.11,2019.16,2019.21,2019.26,2019.31,2019.36,2019.41,2019.46,2019.51,2019.56,2019.61,2019.66,2019.71,2019.76,2019.81,2019.86,2019.91,2019.96,
2020.01,2020.06,2020.11,2020.16,2020.21,2020.26,2020.31,2020.36,2020.41,2020.46,2020.51,2020.56,2020.61,2020.66,2020.71,2020.76,2020.81,2020.86,2020.91,2020.96,
2021.01,2021.06,2021.11,2021.16,2021.21,2021.26,2021.31,2021.36,2021.41,2021.46,2021.51,2021.56,2021.61,2021.66,2021.71,2021.76,2021.81,2021.86,2021.91,2021.96,
2022.01,2022.06,2022.11,2022.16,2022.21,2022.26,2022.31,2022.36,2022.41,2022.46,2022.51,2022.56,2022.61,2022.66,2022.71,2022.76,2022.81,2022.86,2022.91,2022.96,
2023.01,2023.06,2023.11,2023.16,2023.21,2023.26,2023.31,2023.36,2023.41,2023.46,2023.51,2023.56,2023.61,2023.66,2023.71,2023.76,2023.81,2023.86,2023.91,2023.96,
2024.01,2024.06,2024.11,2024.16,2024.21,2024.26,2024.31,2024.36,2024.41,2024.46,2024.51,2024.56,2024.61,2024.66,2024.71,2024.76,2024.81,2024.86,2024.91,2024.96,
2025.01,2025.06,2025.11,2025.16,2025.21,2025.26
];

const upC = [
-9,1,
-2,5,-6,9,3,-1,6,-4,2,8,4,-2,1,10,-3,6,2,-5,-1,-8,
-12,2,7,-1,5,9,0,6,11,4,-2,8,3,10,6,-3,9,2,-4,-9,
-8,1,6,-4,3,9,5,-1,8,2,11,6,0,7,4,-3,10,1,-9,-5,
-12,-3,0,-6,4,1,7,3,-4,8,2,6,-2,9,3,-6,5,-1,-11,2,
-6,-1,3,7,-3,5,9,1,4,11,2,-2,8,5,1,10,-4,3,-7,-1,
3,-7,-10,-13,-16,-9,-4,2,9,-3,5,10,-1,
1,-3,6,-1,4,-5,7,2,9,0,5,10,-2,6,1,-6,3,-9,-2,7,
-12,-8,-3,-10,0,4,-1,7,2,10,5,13,3,8,-1,4,0,-7,-3,-5,
-1,-9,3,-5,-10,1,6,-3,4,8,0,10,5,2,7,-4,5,-8,-2,-6,
-4,-8,1,-6,4,-1,8,2,10,5,7,1,11,4,-5,6,1,-3,-7,3,
-5,2,-9,-2,4,0,6,2,8,-1,9,4,-6,5,1,-7,7,-2,-4,-1,
3,-6,0,5,-2,2,-7,5,8,1,10,4,12,5,-1,3,-6,-10,2,-7,
-11,-6,-1,3,5,-3,8,1,9,4,-6,6,1,10,3,-7,4,-5,1,-8,
-10,-11,-5,-1,6,2,4,-1,8,1,9,4,6,1,-4,7,-6,2,9,0,
-11,-4,7,1,3,-3,5,-6,9,5,2,8,4,-1,10,6,-4,3,-7,-3,
-8,-3,-6,5,2,-1,6,4,10,2,7,12,3,8,5,-4,1,-7,-3,-10,
-6,-8,-1,3,-4,5,2,10,4,8,1,7,4,11,-2,1,-7,3,-4,-9,
-9,-4,-7,0,-6,3,5,-2,8,4,7,12,2,5,-1,7,-6,3,-8,-4,
-10,0,-4,5,1,-2,3,7,2,5,8,2,6,3,9,1,-4,4,-7,-2,
-7,-10,-4,2,-1,4,-5,6,3,7,11,3,8,1,6,-3,3,8,-8,-2,
-11,-2,-7,2,-9,10,-1,6,2,8,12,3,9,5,13,1,-2,10,-5,-7,
-11,-7,3,-3,6,2,-4,12,3,10,0,6,2,8,-2,4,-8,1,-12,-6,
-9,-13,-6,8,-12,4,-5,8,3,6,10,4,8,1,-8,6,9,3,-5,-16,
-16,-12,-5,3,6,1,5,-3,8,2,10,4,-7,8,5,13,1,-1,9,-12,
-14,-10,-5,-2,10,4,-1,7,3,-7,6,9,2,8,4,15,10,5,-7,-9,
6,-4,12,3,-6,-9,6,10,5,14,2,8,-1,13,11,6,3,-6,10,-8,
12,-2,-9,-10,5,-2,10,8,2,6,-7,7,-9,8,10,-10,12,4,-13,-6,
-13,-10,9,-7,-13,-9,6,4,-5,8,2,-7,7,16,14,10,2,-6,5,-2,
-3,5,-10,-12,10,-8,9,4,6,1,9,7,2,6,-7,9,5,12,-8,10,
-1,3,10,-5,11,5,-5,6,2,8,-7,8,5,-2,-7,5,3,-9,4,-6,
8,-10,-11,4,9,5
];

// typical 1-sigma error per calendar year, 1994 ... 2025 (mm)
const sigYear0 = 1994;
const sigNorth = [3.0,3.0,2.0,1.8,1.5,1.2,1.4,0.9,0.8,0.8,0.8,0.8,0.8,0.8,0.8,0.8,0.8,0.8,0.8,0.8,0.8,0.8,0.8,0.8,0.8,0.8,0.8,0.9,1.0,0.9,0.9,0.9];
const sigEast  = [2.5,2.5,1.8,1.5,1.4,1.3,1.3,0.8,0.7,0.7,0.7,0.7,0.7,0.7,0.7,0.7,0.7,0.7,0.7,0.7,0.7,0.7,0.7,0.7,0.7,0.7,0.8,0.9,1.1,0.9,0.9,0.8];
const sigUp    = [9.0,9.0,7.0,6.0,5.5,4.0,4.0,3.0,2.5,2.0,2.0,2.0,2.0,2.0,2.0,2.0,2.0,2.0,2.0,2.0,2.0,2.0,2.0,2.0,2.0,2.8,3.0,3.2,3.5,2.8,2.8,3.0];

// equipment / offset epochs (green lines)
const breakEpochs = [1998.87, 2000.78, 2007.90, 2024.30];

// axes
const xRange = [1993, 2027];
const xTickYears = [1996, 2000, 2004, 2008, 2012, 2016, 2020, 2024];
const yRangeNE = [-32, 32];
const yTicksNE = [-30,-25,-20,-15,-10,-5,0,5,10,15,20,25,30];
const yRangeU = [-35, 35];
const yTicksU = [-35,-30,-25,-20,-15,-10,-5,0,5,10,15,20,25,30,35];

// ---------- DRAWING ----------
const FONT = '"Liberation Sans", Arial, Helvetica, sans-serif';
const PAD_TOP = 70, X_AXIS_H = 120, LEFT = 295, RIGHT_PAD = 2479 - 2185;

function buildSeries(pairs){
  const out = [];
  for (const [t, v] of pairs){
    const n = Math.min(t.length, v.length);
    for (let i = 0; i < n; i++) out.push({x: t[i], y: v[i]});
  }
  return out;
}

function makeDecor(pts, sig, yTicks){
  return {
    id: 'decor',
    beforeDatasetsDraw(chart){
      const {ctx, chartArea:a, scales:{x, y}} = chart;
      ctx.save();
      ctx.beginPath(); ctx.rect(a.left, a.top, a.right - a.left, a.bottom - a.top); ctx.clip();
      ctx.strokeStyle = '#ff0000'; ctx.lineWidth = 1.4;
      ctx.beginPath();
      for (const p of pts){
        const s = sig[Math.min(sig.length - 1, Math.max(0, Math.floor(p.x) - sigYear0))];
        const px = x.getPixelForValue(p.x);
        const y1 = y.getPixelForValue(p.y - s), y2 = y.getPixelForValue(p.y + s);
        ctx.moveTo(px, y1); ctx.lineTo(px, y2);
        ctx.moveTo(px - 5, y1); ctx.lineTo(px + 5, y1);
        ctx.moveTo(px - 5, y2); ctx.lineTo(px + 5, y2);
      }
      ctx.stroke();
      ctx.restore();
    },
    afterDatasetsDraw(chart){
      const {ctx, chartArea:a, scales:{x, y}} = chart;
      ctx.save();
      ctx.beginPath(); ctx.rect(a.left, a.top, a.right - a.left, a.bottom - a.top); ctx.clip();
      const y0 = y.getPixelForValue(0);
      ctx.strokeStyle = '#222'; ctx.lineWidth = 1.5;
      ctx.beginPath(); ctx.moveTo(a.left, y0); ctx.lineTo(a.right, y0); ctx.stroke();
      ctx.strokeStyle = '#00ff00'; ctx.lineWidth = 5;
      for (const b of breakEpochs){
        const px = x.getPixelForValue(b);
        ctx.beginPath(); ctx.moveTo(px, a.top); ctx.lineTo(px, a.bottom); ctx.stroke();
      }
      ctx.restore();
    },
    afterDraw(chart){
      const {ctx, chartArea:a, scales:{x, y}} = chart;
      ctx.save();
      ctx.strokeStyle = '#000';
      ctx.lineWidth = 2;
      ctx.beginPath();
      for (const v of xTickYears){
        const px = Math.round(x.getPixelForValue(v)) + 0.5;
        ctx.moveTo(px, a.top); ctx.lineTo(px, a.top - 24);
      }
      for (const v of yTicks){
        const py = Math.round(y.getPixelForValue(v)) + 0.5;
        ctx.moveTo(a.right, py); ctx.lineTo(a.right + 24, py);
      }
      ctx.stroke();
      ctx.lineWidth = 4;
      ctx.strokeRect(a.left, a.top, a.right - a.left, a.bottom - a.top);
      ctx.restore();
    }
  };
}

const minusFmt = v => (v < 0 ? '\u2212' + Math.abs(v) : String(v));

function makePanel(canvasId, chartTop, chartH, pts, sig, title, yRange, yTicks){
  const cv = document.getElementById(canvasId);
  const H = PAD_TOP + chartH + X_AXIS_H;
  cv.width = 2479; cv.height = H;
  cv.style.width = '2479px'; cv.style.height = H + 'px';
  cv.style.top = (chartTop - PAD_TOP) + 'px';
  return new Chart(cv, {
    type: 'scatter',
    data: { datasets: [{
      data: pts,
      pointRadius: 6.4, pointHoverRadius: 6.4,
      backgroundColor: '#0000ff', borderWidth: 0, showLine: false
    }]},
    options: {
      responsive: false, animation: false, devicePixelRatio: 1, events: [],
      layout: { padding: { top: PAD_TOP, left: 0, right: RIGHT_PAD, bottom: 0 } },
      plugins: { legend: {display: false}, tooltip: {enabled: false}, title: {display: false} },
      scales: {
        x: {
          type: 'linear', position: 'bottom', min: xRange[0], max: xRange[1],
          afterBuildTicks: s => { s.ticks = xTickYears.map(v => ({value: v})); },
          afterFit: s => { s.height = X_AXIS_H; },
          grid: { display: true, drawOnChartArea: false, drawTicks: true, tickLength: 24, tickWidth: 2, tickColor: '#000' },
          border: { display: false },
          ticks: { autoSkip: false, maxRotation: 0, padding: 14, color: '#000',
                   font: { family: FONT, size: 57 }, callback: v => String(v) }
        },
        y: {
          type: 'linear', position: 'left', min: yRange[0], max: yRange[1],
          afterBuildTicks: s => { s.ticks = yTicks.map(v => ({value: v})); },
          afterFit: s => { s.width = LEFT; },
          grid: { display: true, drawOnChartArea: false, drawTicks: true, tickLength: 24, tickWidth: 2, tickColor: '#000' },
          border: { display: false },
          ticks: { autoSkip: false, padding: 26, color: '#000',
                   font: { family: FONT, size: 57 }, callback: minusFmt },
          title: { display: true, text: title, color: '#000',
                   font: { family: FONT, size: 98 }, padding: { top: 3, bottom: 0 } }
        }
      }
    },
    plugins: [makeDecor(pts, sig, yTicks)]
  });
}

makePanel('cN', 201, 945, buildSeries([[epochs, north], [epochsB, northB]]), sigNorth, 'North (mm)', yRangeNE, yTicksNE);
makePanel('cE', 1264, 945, buildSeries([[epochs, east], [epochsB, eastB]]), sigEast, 'East (mm)', yRangeNE, yTicksNE);
makePanel('cU', 2326, 946, buildSeries([[epochs, up], [epochsB, upB], [epochsC, upC]]), sigUp, 'Up (mm)', yRangeU, yTicksU);
</script>
</body></html>
